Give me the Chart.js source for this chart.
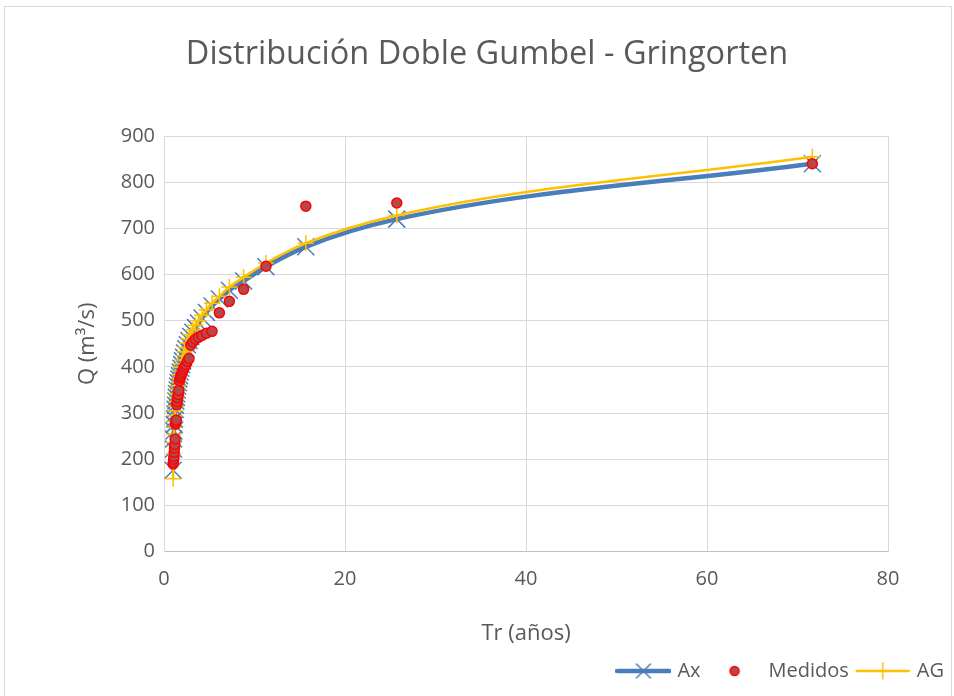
<!DOCTYPE html>
<html>
<head>
<meta charset="utf-8">
<script src="https://cdn.jsdelivr.net/npm/chart.js@4.4.0/dist/chart.umd.min.js"></script>
<style>
  body { margin: 0; background: #fff; }
  #marco { position: absolute; left: 4px; top: 6px; width: 946px; height: 700px; border: 1px solid #d9d9d9; }
  #lienzo { position: absolute; left: 0; top: 0; width: 954px; height: 696px; }
</style>
</head>
<body>
<div id="marco"></div>
<div id="lienzo"><canvas id="grafico" width="954" height="696"></canvas></div>
<script>
// periodos de retorno (Gringorten), orden ascendente
var tr = [1.01, 1.04, 1.07, 1.10, 1.13, 1.16, 1.19, 1.23, 1.27, 1.31,
          1.36, 1.40, 1.46, 1.51, 1.57, 1.64, 1.71, 1.78, 1.86, 1.95,
          2.05, 2.16, 2.28, 2.42, 2.58, 2.76, 2.96, 3.19, 3.47, 3.80,
          4.20, 4.69, 5.31, 6.12, 7.22, 8.80, 11.27, 15.67, 25.72, 71.64];
// caudales medidos (m3/s)
var medidos = [190, 194, 200, 206, 215, 224, 232, 244, 276, 280,
               285, 318, 325, 333, 340, 349, 370, 376, 380, 385,
               390, 395, 400, 405, 412, 418, 447, 454, 460, 464,
               468, 473, 477, 517, 542, 568, 618, 748, 755, 840];
// ajuste Ax
var ax = [176, 222, 244, 261, 275, 287, 298, 308, 317, 326,
          334, 342, 350, 358, 366, 374, 381, 389, 397, 405,
          413, 421, 430, 439, 448, 457, 466, 475, 485, 495,
          506, 518, 532, 547, 566, 586, 617, 660, 720, 840];
// ajuste AG
var ag = [158, 212, 236, 254, 269, 282, 294, 305, 315, 325,
          334, 342, 351, 359, 367, 375, 383, 391, 399, 407,
          415, 424, 433, 442, 452, 461, 470, 480, 490, 500,
          512, 524, 538, 553, 573, 594, 625, 668, 728, 855];

var ticksX = [0, 20, 40, 60, 80];
var ticksY = [0, 100, 200, 300, 400, 500, 600, 700, 800, 900];

var azul = '#4a7ebb';
var amarillo = '#ffc000';
var gris = '#595959';
var fuente = "'Open Sans', 'Noto Sans', sans-serif";

function puntos(ys) {
    var res = [];
    for (let i = 0; i < tr.length; i++) {
        res.push({ x: tr[i], y: ys[i] });
    }
    return res;
}

// iconos de la leyenda (linea + marcador)
function icono(tipo) {
    var c = document.createElement('canvas');
    c.width = 56; c.height = 20;
    var g = c.getContext('2d');
    if (tipo == 'ax' || tipo == 'ag') {
        g.strokeStyle = tipo == 'ax' ? azul : amarillo;
        g.lineWidth = tipo == 'ax' ? 4.5 : 2.5;
        g.lineCap = 'round';
        g.beginPath(); g.moveTo(2, 10); g.lineTo(54, 10); g.stroke();
        g.lineWidth = 1.5;
        g.beginPath();
        if (tipo == 'ax') {
            g.moveTo(21, 3); g.lineTo(35, 17); g.moveTo(35, 3); g.lineTo(21, 17);
        } else {
            g.moveTo(28, 2); g.lineTo(28, 18); g.moveTo(20, 10); g.lineTo(36, 10);
        }
        g.stroke();
    } else {
        g.fillStyle = '#b5484a';
        g.strokeStyle = '#ff0000';
        g.lineWidth = 1.5;
        g.beginPath(); g.arc(28, 10, 4.5, 0, Math.PI * 2); g.fill(); g.stroke();
    }
    return c;
}
var iconos = [icono('ax'), icono('med'), icono('ag')];

var ctx = document.getElementById('grafico');
var grafico = new Chart(ctx, {
    type: 'scatter',
    data: {
        datasets: [
            {
                label: 'Ax',
                data: puntos(ax),
                order: 3,
                showLine: true,
                borderColor: azul,
                borderWidth: 4.5,
                cubicInterpolationMode: 'monotone',
                pointStyle: 'crossRot',
                pointRadius: 12,
                pointBorderWidth: 1.5,
                pointBorderColor: azul,
                backgroundColor: azul
            },
            {
                label: 'Medidos',
                data: puntos(medidos),
                order: 1,
                showLine: false,
                pointStyle: 'circle',
                pointRadius: 5,
                pointBorderWidth: 1.5,
                pointBorderColor: '#ff0000',
                backgroundColor: '#b5484a'
            },
            {
                label: 'AG',
                data: puntos(ag),
                order: 2,
                showLine: true,
                borderColor: amarillo,
                borderWidth: 2.5,
                cubicInterpolationMode: 'monotone',
                pointStyle: 'cross',
                pointRadius: 8,
                pointBorderWidth: 1.5,
                pointBorderColor: amarillo,
                backgroundColor: amarillo
            }
        ]
    },
    options: {
        responsive: false,
        animation: false,
        devicePixelRatio: 1,
        layout: { padding: { left: 20, right: 0, top: 18, bottom: 5 } },
        plugins: {
            title: {
                display: true,
                text: 'Distribución Doble Gumbel - Gringorten',
                color: gris,
                font: { family: fuente, size: 32.5, weight: 'normal' },
                padding: { top: 17, bottom: 62 }
            },
            legend: {
                display: true,
                position: 'bottom',
                align: 'end',
                labels: {
                    color: gris,
                    font: { family: fuente, size: 20 },
                    usePointStyle: true,
                    pointStyleWidth: 48,
                    padding: 10,
                    // la leyenda conserva el orden Ax, Medidos, AG
                    sort: function (a, b) { return a.datasetIndex - b.datasetIndex; },
                    generateLabels: function (chart) {
                        return chart.data.datasets.map(function (ds, i) {
                            return {
                                text: ds.label,
                                pointStyle: iconos[i],
                                fontColor: gris,
                                datasetIndex: i,
                                hidden: false,
                                lineWidth: 0,
                                strokeStyle: 'transparent',
                                fillStyle: 'transparent'
                            };
                        });
                    }
                }
            },
            tooltip: { enabled: false }
        },
        scales: {
            x: {
                type: 'linear',
                min: 0, max: 80,
                afterBuildTicks: function (eje) { eje.ticks = ticksX.map(v => ({ value: v })); },
                grid: { color: '#d9d9d9', lineWidth: 1, drawTicks: false },
                border: { color: '#bfbfbf' },
                ticks: { color: gris, font: { family: fuente, size: 20 }, padding: 16 },
                title: { display: true, text: 'Tr (años)', color: gris, font: { family: fuente, size: 22 }, padding: { top: 13 } }
            },
            y: {
                type: 'linear',
                min: 0, max: 900,
                afterBuildTicks: function (eje) { eje.ticks = ticksY.map(v => ({ value: v })); },
                grid: { color: '#d9d9d9', lineWidth: 1, drawTicks: false },
                border: { color: '#d9d9d9' },
                ticks: { color: gris, font: { family: fuente, size: 20 }, padding: 9 },
                title: { display: true, text: 'Q (m³/s)', color: gris, font: { family: fuente, size: 22 }, padding: { top: 55, bottom: 0 } },
                afterFit: function (eje) { eje.width = 144; }
            },
            // eje auxiliar vacio para dejar margen a la derecha
            y2: {
                type: 'linear',
                position: 'right',
                display: true,
                grid: { display: false },
                border: { display: false },
                ticks: { display: false },
                afterFit: function (eje) { eje.width = 66; }
            }
        }
    }
});
</script>
</body>
</html>
